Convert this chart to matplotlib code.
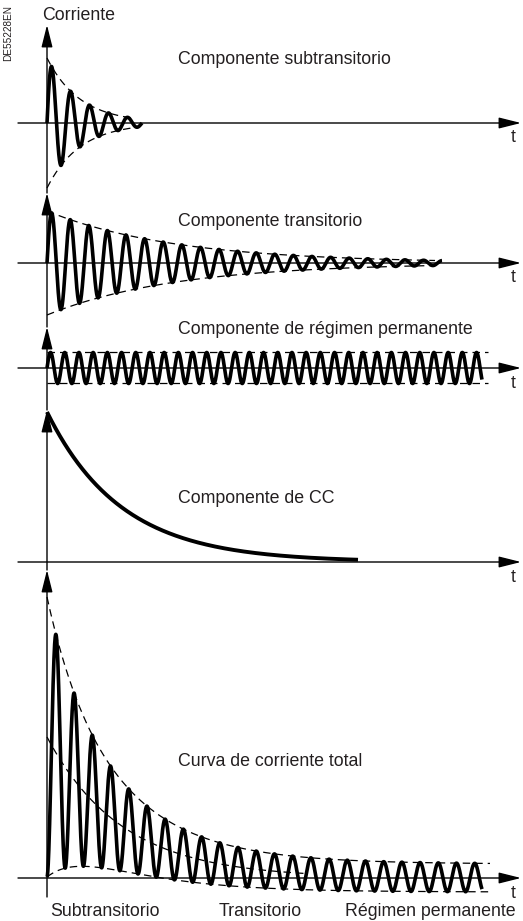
import numpy as np
import matplotlib
matplotlib.use("Agg")
import matplotlib.pyplot as plt

plt.rcParams["font.family"] = ["Liberation Sans", "DejaVu Sans"]

# ---------------- data (schematic values, in drawing units) ----------------
panel_titles = ["Componente subtransitorio", "Componente transitorio",
                "Componente de régimen permanente", "Componente de CC",
                "Curva de corriente total"]
y_label = "Corriente"
x_label = "t"
phase_labels = ["Subtransitorio", "Transitorio", "Régimen permanente"]
doc_code = "DE55228EN"

# components: subtransient, transient, steady state, DC
comp_amplitude = [65, 52, 15.5, 150]
comp_tau = [33, 128, None, 74]
comp_period = [19.0, 18.6, 14.2, None]
comp_duration = [95, 395, 435, 311]
comp_env_duration = [88, 388, 441, None]

# total current: dc, subtransient, transient, steady
total_amplitude = [141, 58, 68, 14]
total_tau = [75, 33, 75, None]
total_period = 18.2
total_duration = 435
total_env_duration = 443
total_dc_duration = 260

# ---------------- layout (pixels) ----------------
W, H = 523, 921
X0 = 47
tops = [0, 193, 327, 410, 570]
bottoms = [193, 327, 410, 570, 897]
baselines = [123, 263, 368, 562, 878]
tips = [25, 193, 327, 410, 570]
TEXT = "#231f20"
FS = 12.8

fig = plt.figure(figsize=(W / 100, H / 100), dpi=100)
fig.patch.set_facecolor("white")

arrow_kw = dict(arrowstyle="-|>,head_length=0.68,head_width=0.17",
                mutation_scale=20, lw=1.0, color="black",
                shrinkA=0, shrinkB=0)

axes = []
for i in range(5):
    top, bot, base = tops[i], bottoms[i], baselines[i]
    ax = fig.add_axes([0, 1 - bot / H, 1, (bot - top) / H])
    ax.set_xlim(-X0, W - X0)
    ax.set_ylim(base - bot, base - top)
    ax.axis("off")
    # horizontal time axis
    ax.annotate("", xy=(474, 0), xytext=(18 - X0, 0),
                arrowprops=arrow_kw, annotation_clip=False)
    # vertical current axis
    ax.annotate("", xy=(0, base - tips[i]), xytext=(0, base - bot),
                arrowprops=arrow_kw, annotation_clip=False)
    ax.text(466, -15, x_label, fontsize=FS, color=TEXT,
            ha="center", va="center")
    axes.append(ax)

dash = (0, (6, 4))
WLW = 2.6

# ---- panel 1: subtransient ----
ax = axes[0]
A, tau, T = comp_amplitude[0], comp_tau[0], comp_period[0]
t = np.linspace(0, comp_duration[0], 2000)
env = A * np.exp(-t / tau)
ax.plot(t, env * np.sin(2 * np.pi * t / T), color="black", lw=WLW,
        clip_on=False, solid_capstyle="butt")
te = np.linspace(0, comp_env_duration[0], 300)
ee = A * np.exp(-te / tau)
ax.plot(te, ee, color="black", lw=0.9, ls=dash, clip_on=False)
ax.plot(te, -ee, color="black", lw=0.9, ls=dash, clip_on=False)
ax.text(131, 123 - 60, panel_titles[0], fontsize=FS, color=TEXT,
        ha="left", va="center")
ax.text(-5, 123 - 15, y_label, fontsize=FS, color=TEXT,
        ha="left", va="center")

# ---- panel 2: transient ----
ax = axes[1]
A, tau, T = comp_amplitude[1], comp_tau[1], comp_period[1]
t = np.linspace(0, comp_duration[1], 4000)
env = A * np.exp(-t / tau)
ax.plot(t, env * np.sin(2 * np.pi * t / T), color="black", lw=WLW,
        clip_on=False, solid_capstyle="butt")
te = np.linspace(0, comp_env_duration[1], 400)
ee = A * np.exp(-te / tau)
ax.plot(te, ee, color="black", lw=0.9, ls=dash, clip_on=False)
ax.plot(te, -ee, color="black", lw=0.9, ls=dash, clip_on=False)
ax.text(131, 263 - 222, panel_titles[1], fontsize=FS, color=TEXT,
        ha="left", va="center")

# ---- panel 3: steady state ----
ax = axes[2]
A, T = comp_amplitude[2], comp_period[2]
t = np.linspace(0, comp_duration[2], 4000)
ax.plot(t, A * np.sin(2 * np.pi * t / T), color="black", lw=WLW,
        clip_on=False, solid_capstyle="butt")
te = np.array([0, comp_env_duration[2]])
ax.plot(te, [A, A], color="black", lw=0.9, ls=dash, clip_on=False)
ax.plot(te, [-A, -A], color="black", lw=0.9, ls=dash, clip_on=False)
ax.text(131, 368 - 330, panel_titles[2], fontsize=FS, color=TEXT,
        ha="left", va="center")

# ---- panel 4: DC ----
ax = axes[3]
A, tau = comp_amplitude[3], comp_tau[3]
t = np.linspace(0, comp_duration[3], 1000)
ax.plot(t, A * np.exp(-t / tau), color="black", lw=2.8, clip_on=False,
        solid_capstyle="butt")
ax.text(131, 562 - 498, panel_titles[3], fontsize=FS, color=TEXT,
        ha="left", va="center")

# ---- panel 5: total ----
ax = axes[4]
dcA, sA, trA, stA = total_amplitude
dcT, sT, trT, _ = total_tau


def dc_part(t):
    return dcA * np.exp(-t / dcT)


def ac_env(t):
    return sA * np.exp(-t / sT) + trA * np.exp(-t / trT) + stA


t = np.linspace(0, total_duration, 5000)
ax.plot(t, dc_part(t) - ac_env(t) * np.cos(2 * np.pi * t / total_period),
        color="black", lw=WLW, clip_on=False, solid_capstyle="butt")
te = np.linspace(0, total_env_duration, 500)
ax.plot(te, dc_part(te) + ac_env(te), color="black", lw=0.9, ls=dash,
        clip_on=False)
ax.plot(te, dc_part(te) - ac_env(te), color="black", lw=0.9, ls=dash,
        clip_on=False)
td = np.linspace(0, total_dc_duration, 300)
ax.plot(td, dc_part(td), color="black", lw=0.9, ls=dash, clip_on=False)
ax.text(131, 878 - 762, panel_titles[4], fontsize=FS, color=TEXT,
        ha="left", va="center")
label_x = [58, 213, 383]
for lx, lab in zip(label_x, phase_labels):
    ax.text(lx, 878 - 911, lab, fontsize=FS, color=TEXT,
            ha="center", va="center")

# document code
fig.text(8 / W, 1 - 33 / H, doc_code, rotation=90, fontsize=7.2,
         color=TEXT, ha="center", va="center")

fig.savefig("out.png", dpi=100, facecolor="white")
